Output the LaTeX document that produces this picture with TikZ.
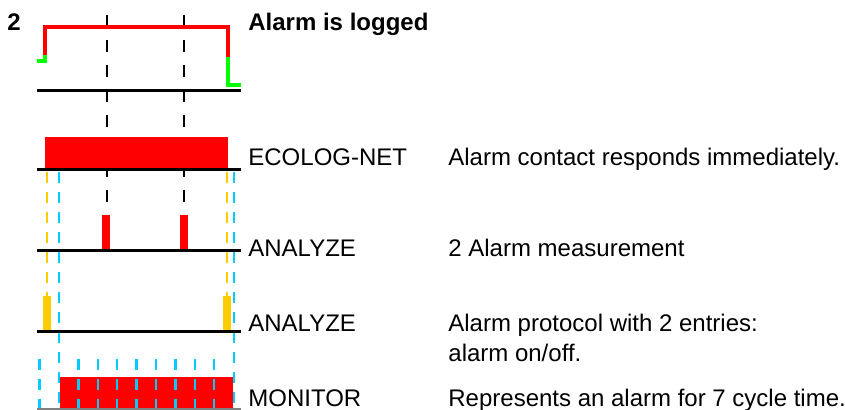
\documentclass[tikz,border=0pt]{standalone}
\usepackage{fontspec}
\setmainfont{Liberation Sans}
\definecolor{almred}{RGB}{255,0,0}
\definecolor{almgreen}{RGB}{0,255,0}
\definecolor{almyellow}{RGB}{255,204,0}
\definecolor{almblue}{RGB}{0,204,255}

\begin{document}
\begin{tikzpicture}[x=0.5pt,y=-0.5pt,
    axis/.style={black,line width=1.5pt},
    sig/.style={line width=2pt},
    marker/.style={black,line width=1.3pt,dash pattern=on 6pt off 6.5pt},
    cyc/.style={line width=1.25pt,dash pattern=on 5.5pt off 4.5pt},
    lbl/.style={anchor=base west,inner sep=0pt,font=\fontsize{12}{14}\selectfont}]
    \useasboundingbox (0,0) rectangle (845,410);

    % measurement markers
    \draw[marker] (107,15) -- (107,215);
    \draw[marker] (184,15) -- (184,215);

    % alarm contact
    \draw[sig,almgreen] (37,61) -- (44.5,61) -- (44.5,55);
    \draw[sig,almred] (44.5,55) -- (44.5,27.5) -- (228,27.5) -- (228,57);
    \draw[sig,almgreen] (228,57) -- (228,85.5) -- (241,85.5);
    \draw[axis] (37,91) -- (241,91);

    % ECOLOG-NET
    \fill[almred] (45,137) rectangle (228,169);
    \draw[axis] (37,170) -- (241,170);

    % protocol and cycle lines
    \draw[cyc,almyellow] (47,172) -- (47,296);
    \draw[cyc,almyellow] (227,172) -- (227,296);
    \draw[cyc,almblue] (59,172) -- (59,410);
    \draw[cyc,almblue] (234,172) -- (234,410);

    % ANALYZE measurement
    \fill[almred] (102,215) rectangle (110,249);
    \fill[almred] (180,215) rectangle (188,249);
    \draw[axis] (37,250.5) -- (241,250.5);

    % ANALYZE protocol
    \fill[almyellow] (43,296) rectangle (51,330);
    \fill[almyellow] (223,296) rectangle (231,330);
    \draw[axis] (37,331.5) -- (241,331.5);

    % MONITOR
    \fill[almred] (60,377) rectangle (233,410);
    \foreach \k in {0,2,3,4,5,6,7,8,9}
        \draw[cyc,almblue] (39.6+\k*19.4,359) -- (39.6+\k*19.4,410);
    \draw[gray,line width=1.5pt] (37,409.5) -- (241,409.5);

    % texts
    \node[lbl,font=\fontsize{12}{14}\selectfont\bfseries] (num) at (7,31) {2};
    \node[lbl,font=\fontsize{12}{14}\selectfont\bfseries] (title) at (248,31) {Alarm is logged};
    \node[lbl] (ecolog) at (248,166) {ECOLOG-NET};
    \node[lbl] (analyzeA) at (248,257) {ANALYZE};
    \node[lbl] (analyzeB) at (248,332) {ANALYZE};
    \node[lbl] (monitor) at (248,407) {MONITOR};
    \node[lbl] (descA) at (448,166) {Alarm contact responds immediately.};
    \node[lbl] (descB) at (448,257) {2 Alarm measurement};
    \node[lbl] (descC) at (448,332) {Alarm protocol with 2 entries:};
    \node[lbl] (descD) at (448,362) {alarm on/off.};
    \node[lbl] (descE) at (448,407) {Represents an alarm for 7 cycle time.};
\end{tikzpicture}
\end{document}
